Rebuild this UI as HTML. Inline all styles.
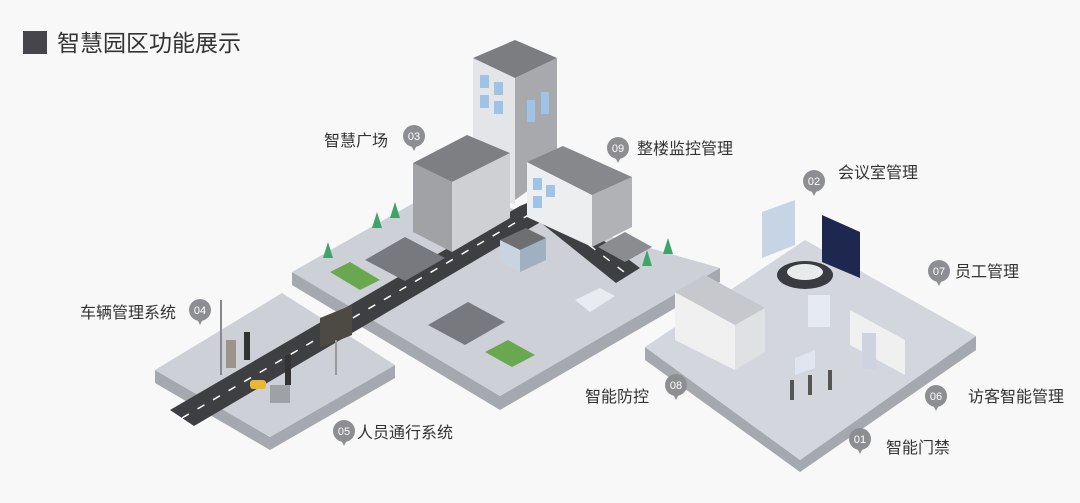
<!DOCTYPE html>
<html><head><meta charset="utf-8"><style>
html,body{margin:0;padding:0;background:#f8f8f9;}
body{width:1080px;height:498px;overflow:hidden;position:relative;font-family:"Liberation Sans","Noto Sans CJK SC",sans-serif;}
.t{font-family:"Liberation Sans","Noto Sans CJK SC",sans-serif;fill:#333;}
</style></head><body>
<svg width="1080" height="498" viewBox="0 0 1080 498" xmlns="http://www.w3.org/2000/svg">
<rect width="1080" height="498" fill="#f8f8f9"/>
<rect x="23" y="31" width="24" height="23" fill="#45454b"/>
<text x="57" y="51" class="t" font-size="23" fill="#3a3a3f">智慧园区功能展示</text>

<polygon points="292,272 292,285 500,410 720,282 720,268 500,396" fill="#a5a8ae"/>
<polygon points="292,272 440,188 720,268 500,396" fill="#cdd0d7"/>
<polygon points="155,370 155,383 270,450 395,378 395,365 270,437" fill="#a5a8ae"/>
<polygon points="155,370 282,293 395,365 270,437" fill="#cdd0d7"/>
<polygon points="645,347 645,360 800,472 976,350 976,336 800,460" fill="#a5a8ae"/>
<polygon points="645,347 805,240 976,336 800,460" fill="#d3d6dd"/>

<polygon points="170,410 520,206 544,220 194,426" fill="#3e3f42"/>
<line x1="182" y1="418" x2="532" y2="213" stroke="#fff" stroke-width="1.5" stroke-dasharray="8,10"/>
<polygon points="520,206 544,196 640,268 616,283" fill="#3e3f42"/>
<line x1="532" y1="201" x2="628" y2="275" stroke="#fff" stroke-width="1.5" stroke-dasharray="8,10"/>

<polygon points="365,260 405,237 445,258 405,281" fill="#77797e"/>
<polygon points="428,325 468,302 505,322 465,345" fill="#77797e"/>
<polygon points="598,247 625,232 652,247 625,262" fill="#8a8c90"/>
<polygon points="330,272 350,262 380,280 360,290" fill="#6aa84f"/>
<polygon points="485,352 508,340 535,355 512,367" fill="#6aa84f"/>

<g fill="#3fa468">
<polygon points="377,212 372,228 382,228"/><polygon points="395,202 390,218 400,218"/>
<polygon points="328,242 323,258 333,258"/><polygon points="647,250 642,266 652,266"/>
<polygon points="668,238 663,254 673,254"/>
</g>

<polygon points="473,58 515,78 515,205 473,185" fill="#e4e5e8"/>
<polygon points="515,78 557,58 557,170 515,200" fill="#a7a9ad"/>
<polygon points="473,58 515,40 557,58 515,78" fill="#7b7d81"/>
<g fill="#9ec3e6"><rect x="480" y="75" width="9" height="13"/><rect x="494" y="82" width="9" height="13"/><rect x="480" y="95" width="9" height="13"/><rect x="494" y="101" width="9" height="13"/>
<rect x="527" y="100" width="8" height="22"/><rect x="541" y="92" width="8" height="22"/></g>
<polygon points="413,163 452,182 452,252 413,232" fill="#a0a2a6"/>
<polygon points="452,182 510,153 510,218 452,252" fill="#cfd0d3"/>
<polygon points="413,163 467,135 510,153 452,182" fill="#7d7f83"/>
<polygon points="527,162 592,195 592,247 527,217" fill="#eceef0"/>
<polygon points="592,195 632,177 632,227 592,247" fill="#b0b2b6"/>
<polygon points="527,162 563,146 632,177 592,195" fill="#86888c"/>
<g fill="#9ec3e6"><rect x="533" y="178" width="9" height="12"/><rect x="546" y="185" width="9" height="12"/><rect x="533" y="196" width="9" height="12"/></g>
<polygon points="500,240 520,250 520,272 500,262" fill="#c8d4e0"/>
<polygon points="520,250 546,238 546,260 520,272" fill="#9fb0c0"/>
<polygon points="500,240 526,228 546,238 520,250" fill="#6d6f73"/>
<polygon points="575,300 600,288 615,296 590,312" fill="#e8ecf0"/>

<polygon points="675,292 735,325 735,370 675,340" fill="#f0f0f0"/>
<polygon points="735,325 765,308 765,352 735,370" fill="#e0e1e4"/>
<polygon points="675,292 705,275 765,308 735,325" fill="#c6c8cd"/>
<polygon points="850,310 905,340 905,375 850,345" fill="#f0f0f0"/>
<polygon points="762,212 795,200 795,245 762,258" fill="#c6d4e6"/>
<polygon points="822,215 860,232 860,278 822,262" fill="#1e2750"/>
<ellipse cx="805" cy="275" rx="28" ry="14" fill="#3a3b40"/>
<ellipse cx="805" cy="272" rx="18" ry="8" fill="#e9eaec"/>
<rect x="808" y="295" width="22" height="32" fill="#e6eaf3"/>
<rect x="862" y="333" width="14" height="36" fill="#cfd2e0"/>
<polygon points="795,358 815,350 815,368 795,375" fill="#dfe6f0"/>
<g fill="#555"><rect x="790" y="380" width="4" height="20"/><rect x="808" y="375" width="4" height="20"/><rect x="828" y="370" width="4" height="20"/></g>

<rect x="220" y="300" width="2" height="75" fill="#888"/>
<rect x="226" y="340" width="10" height="28" fill="#9c948a"/>
<rect x="244" y="332" width="6" height="28" fill="#333"/>
<rect x="285" y="355" width="6" height="30" fill="#333"/>
<polygon points="320,318 352,305 352,335 320,348" fill="#4d4a44"/>
<rect x="335" y="340" width="2" height="35" fill="#999"/>
<rect x="250" y="380" width="16" height="9" fill="#e8b830" rx="3"/>
<rect x="270" y="385" width="20" height="18" fill="#9ea1a6"/>

<g font-family="Liberation Sans, sans-serif" font-size="11" text-anchor="middle" fill="#fff">
<g><circle cx="414" cy="136" r="11" fill="#8d8e91"/><polygon points="411,145 417,145 414,151" fill="#8d8e91"/><text x="414" y="140">03</text></g>
<g><circle cx="618" cy="148" r="11" fill="#8d8e91"/><polygon points="615,157 621,157 618,163" fill="#8d8e91"/><text x="618" y="152">09</text></g>
<g><circle cx="814" cy="181" r="11" fill="#8d8e91"/><polygon points="811,190 817,190 814,196" fill="#8d8e91"/><text x="814" y="185">02</text></g>
<g><circle cx="939" cy="271" r="11" fill="#8d8e91"/><polygon points="936,280 942,280 939,286" fill="#8d8e91"/><text x="939" y="275">07</text></g>
<g><circle cx="200" cy="310" r="11" fill="#8d8e91"/><polygon points="197,319 203,319 200,325" fill="#8d8e91"/><text x="200" y="314">04</text></g>
<g><circle cx="676" cy="385" r="11" fill="#8d8e91"/><polygon points="673,394 679,394 676,400" fill="#8d8e91"/><text x="676" y="389">08</text></g>
<g><circle cx="936" cy="396" r="11" fill="#8d8e91"/><polygon points="933,405 939,405 936,411" fill="#8d8e91"/><text x="936" y="400">06</text></g>
<g><circle cx="860" cy="439" r="11" fill="#8d8e91"/><polygon points="857,448 863,448 860,454" fill="#8d8e91"/><text x="860" y="443">01</text></g>
<g><circle cx="344" cy="431" r="11" fill="#8d8e91"/><polygon points="341,440 347,440 344,446" fill="#8d8e91"/><text x="344" y="435">05</text></g>
</g>

<g class="t" font-size="16" fill="#333">
<text x="324" y="146">智慧广场</text>
<text x="637" y="154">整楼监控管理</text>
<text x="838" y="178">会议室管理</text>
<text x="955" y="277">员工管理</text>
<text x="80" y="318">车辆管理系统</text>
<text x="585" y="402">智能防控</text>
<text x="968" y="402">访客智能管理</text>
<text x="886" y="453">智能门禁</text>
<text x="357" y="438">人员通行系统</text>
</g>
</svg>
</body></html>
